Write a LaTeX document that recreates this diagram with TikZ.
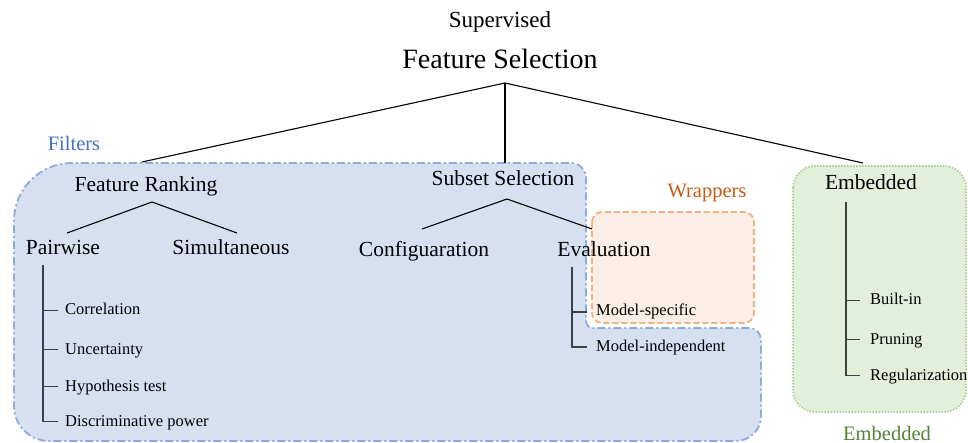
\documentclass[tikz,border=0pt]{standalone}
\usepackage{fontspec}
\setmainfont{Liberation Serif}
\definecolor{filtfill}{HTML}{D7E0F1}
\definecolor{filtline}{HTML}{8FAADC}
\definecolor{filttext}{HTML}{4472C4}
\definecolor{wrapfill}{HTML}{FBEEE6}
\definecolor{wrapline}{HTML}{F4B183}
\definecolor{wraptext}{HTML}{C55A11}
\definecolor{embfill}{HTML}{E2EFDA}
\definecolor{embline}{HTML}{A9D18E}
\definecolor{embtext}{HTML}{548235}
\definecolor{stemgray}{HTML}{404040}
\tikzset{
  filtbox/.style={fill=filtfill, draw=filtline, line width=1.8pt,
    dash pattern=on 8pt off 3pt on 2pt off 3pt},
  wrapbox/.style={fill=wrapfill, draw=wrapline, line width=1.8pt,
    dash pattern=on 6pt off 3pt, rounded corners=10pt},
  embbox/.style={fill=embfill, draw=embline, line width=1.8pt,
    dash pattern=on 1.4pt off 1.6pt, rounded corners=22pt},
  lbl/.style={inner sep=0pt, anchor=base},
  title/.style={lbl, font=\fontsize{28}{30}\selectfont},
  subtitle/.style={lbl, font=\fontsize{23}{25}\selectfont},
  mid/.style={lbl, font=\fontsize{21.5}{24}\selectfont},
  item/.style={inner sep=0pt, anchor=base west, font=\fontsize{16.5}{19}\selectfont},
  group/.style={lbl, font=\fontsize{20.5}{23}\selectfont},
  link/.style={line width=1.1pt, black},
  stem/.style={line width=1.4pt, stemgray},
}
\begin{document}
\begin{tikzpicture}[x=1pt, y=-1pt]
\useasboundingbox (0,0) rectangle (968,443);

% group regions
\path[filtbox] (14,300) [rounded corners=58pt] -- (14,163)
  [rounded corners=15pt] -- (586,163)
  [rounded corners=7pt] -- (586,328)
  [rounded corners=12pt] -- (761,328)
  [rounded corners=25pt] -- (761,441)
  [rounded corners=35pt] -- (14,441) -- cycle;
\path[wrapbox] (592,212) rectangle (754,323);
\path[embbox] (793,166) rectangle (966,412);

% group labels
\node[group, text=filttext] (lfilt) at (74,151) {Filters};
\node[group, text=wraptext] (lwrap) at (707,198) {Wrappers};
\node[group, text=embtext] (lemb) at (887,440) {Embedded};

% headings
\node[subtitle] (sup) at (500,28) {Supervised};
\node[title] (fs) at (500,69) {Feature Selection};

% second level
\node[mid] (fr) at (146,192) {Feature Ranking};
\node[mid] (ss) at (503,186) {Subset Selection};
\node[mid] (emb) at (871,190) {Embedded};

% third level
\node[mid] (pw) at (63,255) {Pairwise};
\node[mid] (sim) at (231,255) {Simultaneous};
\node[mid] (conf) at (424,257) {Configuaration};
\node[mid] (eval) at (604,257) {Evaluation};

% leaves
\node[item] (corr) at (65,315) {Correlation};
\node[item] (unc) at (65,354) {Uncertainty};
\node[item] (hyp) at (65,391) {Hypothesis test};
\node[item] (disc) at (65,426) {Discriminative power};
\node[item] (mspec) at (596,316) {Model-specific};
\node[item] (mind) at (596,351) {Model-independent};
\node[item] (bin) at (870,305) {Built-in};
\node[item] (prun) at (870,344) {Pruning};
\node[item] (reg) at (870,380) {Regularization};

% branching points and ends
\coordinate (fsJ) at (505,83);
\coordinate (frT) at (142,162);
\coordinate (ssT) at (505,163);
\coordinate (embT) at (863,163);
\coordinate (frJ) at (152,202);
\coordinate (pwT) at (67,233);
\coordinate (simT) at (237,233);
\coordinate (ssJ) at (507,199);
\coordinate (confT) at (422,229);
\coordinate (evalT) at (592,229);
\coordinate (pwS) at (43,265);
\coordinate (evalS) at (572,267);
\coordinate (embS) at (846,202);

% tree links
\draw[link] (frT) -- (fsJ) -- (embT);
\draw[link] (fsJ) -- (ssT);
\draw[link] (pwT) -- (frJ) -- (simT);
\draw[link] (confT) -- (ssJ) -- (evalT);

% leaf stems
\foreach \leaf in {corr,unc,hyp,disc}
  \draw[stem] (pwS) |- ([xshift=-7pt, yshift=4.5pt]\leaf.base west);
\foreach \leaf in {mspec,mind}
  \draw[stem] (evalS) |- ([xshift=-9pt, yshift=4pt]\leaf.base west);
\foreach \leaf in {bin,prun,reg}
  \draw[stem] (embS) |- ([xshift=-10pt, yshift=4.5pt]\leaf.base west);
\end{tikzpicture}
\end{document}
